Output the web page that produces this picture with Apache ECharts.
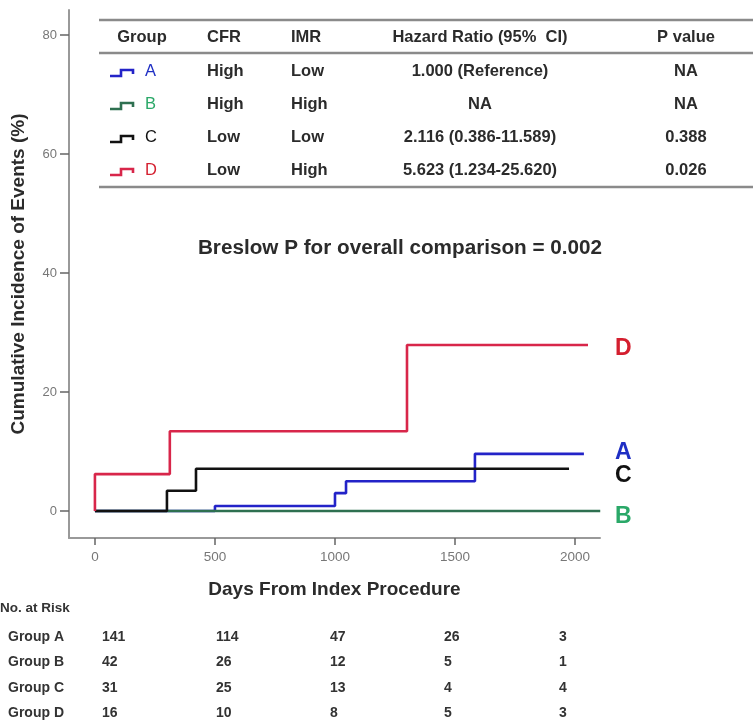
<!DOCTYPE html>
<html>
<head>
<meta charset="utf-8">
<script src="https://cdn.jsdelivr.net/npm/echarts@6/dist/echarts.min.js"></script>
<style>
html,body{margin:0;padding:0;background:#fff;}
#c{width:753px;height:724px;}
</style>
</head>
<body>
<div id="c"></div>
<script>
// ---- data ----
const groupNames = ['A', 'B', 'C', 'D'];
const timesA = [0, 500, 1000, 1046, 1583, 2037];
const valuesA = [0, 0.85, 3.0, 5.0, 9.6, 9.6];
const timesB = [0, 2105];
const valuesB = [0, 0];
const timesC = [0, 300, 421, 1975];
const valuesC = [0, 3.4, 7.1, 7.1];
const timesD = [0, 0, 312, 1300, 2054];
const valuesD = [0, 6.2, 13.4, 27.9, 27.9];

const xTicks = [0, 500, 1000, 1500, 2000];
const yTicks = [0, 20, 40, 60, 80];

const tableHeaders = ['Group', 'CFR', 'IMR', 'Hazard Ratio (95%  CI)', 'P value'];
const colCFR = ['High', 'High', 'Low', 'Low'];
const colIMR = ['Low', 'High', 'Low', 'High'];
const colHR = ['1.000 (Reference)', 'NA', '2.116 (0.386-11.589)', '5.623 (1.234-25.620)'];
const colP = ['NA', 'NA', '0.388', '0.026'];

const riskLabels = ['Group A', 'Group B', 'Group C', 'Group D'];
const riskA = [141, 114, 47, 26, 3];
const riskB = [42, 26, 12, 5, 1];
const riskC = [31, 25, 13, 4, 4];
const riskD = [16, 10, 8, 5, 3];

const overallText = 'Breslow P for overall comparison = 0.002';

// ---- styles ----
const lineColors = ['#2323c8', '#2e7050', '#111111', '#d8264a'];
const labelColors = ['#1f2fc4', '#2aa868', '#111111', '#d41f2f'];
const FONT = "'Liberation Sans', Arial, sans-serif";

function zip(t, v) { return t.map((x, i) => [x, v[i]]); }
const seriesData = [zip(timesA, valuesA), zip(timesB, valuesB), zip(timesC, valuesC), zip(timesD, valuesD)];

const chart = echarts.init(document.getElementById('c'), null, { renderer: 'canvas' });

const series = seriesData.map((d, i) => ({
  type: 'line',
  name: groupNames[i],
  data: d,
  step: 'end',
  showSymbol: false,
  symbol: 'none',
  clip: false,
  lineStyle: { color: lineColors[i], width: 2.6 },
  z: 2 + i
}));

// ---- graphic: table, labels, risk table ----
const graphic = [];
const tX0 = 99, tX1 = 753;
const lineY = [20, 53, 187];
lineY.forEach(y => graphic.push({
  type: 'line', shape: { x1: tX0, y1: y, x2: tX1, y2: y },
  style: { stroke: '#8a8a8a', lineWidth: 2.5 }
}));
const headY = 37;
const rowY = [71, 104, 137, 170];
const tFont = { fontFamily: FONT, fontSize: 16.5, fontWeight: 'bold', fill: '#2b2b2b' };
function txt(text, x, y, align, extra) {
  return { type: 'text', x: x, y: y, style: Object.assign({ text: text, textAlign: align, textVerticalAlign: 'middle' }, tFont, extra || {}) };
}
const headerX = [142, 207, 291, 480, 686];
const headerAlign = ['center', 'left', 'left', 'center', 'center'];
tableHeaders.forEach((h, i) => graphic.push(txt(h, headerX[i], headY, headerAlign[i])));
rowY.forEach((y, r) => {
  graphic.push({
    type: 'polyline',
    shape: { points: [[110, y + 5], [121, y + 5], [121, y - 1], [133, y - 1], [133, y + 3]] },
    style: { stroke: lineColors[r], lineWidth: 2.6, fill: null }
  });
  graphic.push(txt(groupNames[r], 145, y, 'left', { fill: labelColors[r], fontWeight: 'normal' }));
  graphic.push(txt(colCFR[r], 207, y, 'left'));
  graphic.push(txt(colIMR[r], 291, y, 'left'));
  graphic.push(txt(colHR[r], 480, y, 'center'));
  graphic.push(txt(colP[r], 686, y, 'center'));
});
graphic.push({ type: 'text', x: 400, y: 248, style: { text: overallText, textAlign: 'center', textVerticalAlign: 'middle', fontFamily: FONT, fontSize: 20.7, fontWeight: 'bold', fill: '#2b2b2b' } });
const endLabelY = [453, 517, 476, 349];
groupNames.forEach((g, i) => graphic.push({
  type: 'text', x: 615, y: endLabelY[i],
  style: { text: g, textAlign: 'left', textVerticalAlign: 'middle', fontFamily: FONT, fontSize: 23, fontWeight: 'bold', fill: labelColors[i] }
}));
graphic.push({ type: 'text', x: 0, y: 608, style: { text: 'No. at Risk', textAlign: 'left', textVerticalAlign: 'middle', fontFamily: FONT, fontSize: 13.5, fontWeight: 'bold', fill: '#333' } });
const riskRows = [riskA, riskB, riskC, riskD];
const riskRowY = [637, 662, 688, 713];
const riskColX = [102, 216, 330, 444, 559];
riskRows.forEach((row, r) => {
  graphic.push({ type: 'text', x: 8, y: riskRowY[r], style: { text: riskLabels[r], textAlign: 'left', textVerticalAlign: 'middle', fontFamily: FONT, fontSize: 14, fontWeight: 'bold', fill: '#333' } });
  row.forEach((v, c) => graphic.push({ type: 'text', x: riskColX[c], y: riskRowY[r], style: { text: String(v), textAlign: 'left', textVerticalAlign: 'middle', fontFamily: FONT, fontSize: 14, fontWeight: 'bold', fill: '#333' } }));
});

const option = {
  backgroundColor: '#ffffff',
  animation: false,
  grid: { left: 69, right: 153, top: 10, bottom: 186, containLabel: false },
  xAxis: {
    type: 'value', min: -108, max: 2104,
    name: 'Days From Index Procedure', nameLocation: 'middle', nameGap: 42,
    nameTextStyle: { fontFamily: FONT, fontSize: 19, fontWeight: 'bold', color: '#2b2b2b', verticalAlign: 'top' },
    axisLine: { show: true, onZero: false, lineStyle: { color: '#999', width: 2 } },
    axisTick: { show: true, length: 7, customValues: xTicks, lineStyle: { color: '#666', width: 1.5 } },
    axisLabel: { customValues: xTicks, margin: 12, fontFamily: FONT, fontSize: 13.5, color: '#777', formatter: v => String(v) },
    splitLine: { show: false }
  },
  yAxis: {
    type: 'value', min: -4.54, max: 84.2,
    name: 'Cumulative Incidence of Events (%)', nameLocation: 'middle', nameGap: 41, nameRotate: 90,
    nameTextStyle: { fontFamily: FONT, fontSize: 19, fontWeight: 'bold', color: '#2b2b2b' },
    axisLine: { show: true, onZero: false, lineStyle: { color: '#999', width: 2 } },
    axisTick: { show: true, length: 9, customValues: yTicks, lineStyle: { color: '#666', width: 1.5 } },
    axisLabel: { customValues: yTicks, margin: 12, fontFamily: FONT, fontSize: 13, color: '#777', formatter: v => String(v) },
    splitLine: { show: false }
  },
  series: series,
  graphic: graphic
};
chart.setOption(option);
</script>
</body>
</html>
